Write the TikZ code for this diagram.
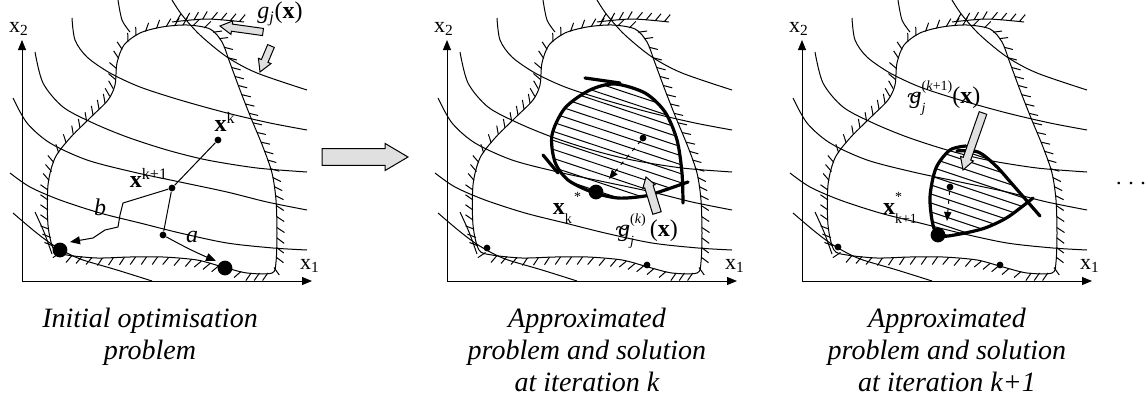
\documentclass[tikz,border=0pt]{standalone}
\usepackage{fontspec}
\setmainfont{Liberation Serif}
\usetikzlibrary{arrows.meta,calc}

\definecolor{arrowgray}{gray}{0.88}

\tikzstyle{isoline} = [line width=0.5pt]
\tikzstyle{approxline} = [line width=1.6pt, line cap=round]
\tikzstyle{dot} = [circle, fill, inner sep=0pt, minimum size=3.4pt]
\tikzstyle{bigdot} = [circle, fill, inner sep=0pt, minimum size=7.4pt]
\tikzstyle{axis} = [line width=0.5pt, -{Triangle[length=5pt,width=4pt]}]
\tikzstyle{arrowline} = [line width=0.5pt, -{Triangle[length=5pt,width=4pt]}]
\tikzstyle{move} = [line width=0.5pt, dash pattern=on 2pt off 2.5pt, -{Triangle[length=4.5pt,width=3.6pt]}]
\tikzstyle{txt} = [inner sep=0pt, font=\fontsize{11}{13}\selectfont]
\tikzstyle{ptxt} = [inner sep=0pt, font=\fontsize{12}{14}\selectfont]
\tikzstyle{caption} = [inner sep=0pt, anchor=north, align=center, font=\fontsize{14}{16}\selectfont\itshape]

% scripts and the tilde of the approximated constraint
\newcommand{\upscript}[1]{\raisebox{0.55em}{\scriptsize #1}}
\newcommand{\downscript}[1]{\raisebox{-0.38em}{\scriptsize #1}}
\newcommand{\gtilde}{\textit{g}\llap{\~{}\kern0.07em}}

% gray block arrow: from, to, half shaft, half head, head length
\newcommand{\blockarrow}[5]{%
  \coordinate (ba) at ($(#2)!#5!(#1)$);
  \filldraw[line width=0.5pt, fill=arrowgray] ($(#1)!#3!90:(#2)$) -- ($(ba)!#3!90:(#2)$)
    -- ($(ba)!#4!90:(#2)$) -- (#2) -- ($(ba)!#4!-90:(#2)$) -- ($(ba)!#3!-90:(#2)$)
    -- ($(#1)!#3!-90:(#2)$) -- cycle;}

% hatch ticks on the outer (left) side of a chain of chords
\newcommand{\hatch}[1]{%
  \foreach \xa/\ya/\xb/\yb in {#1} {
    \pgfmathtruncatemacro{\hn}{max(1,round(veclen(\xb-\xa,\yb-\ya)/10))}
    \foreach \i in {1,...,\hn} {
      \pgfmathsetmacro{\hf}{(\i-0.5)/\hn}
      \coordinate (h) at ($(\xa,\ya)!\hf!(\xb,\yb)$);
      \draw[isoline] (h) -- ($(h)!4.6pt!55:(\xb,\yb)$);
    }
  }}

% objective contours, feasible region and axes of one panel
\newcommand{\feasible}[1]{%
  \draw[isoline] plot[smooth] coordinates {(96,0) (100,20) (108,32)};
  \draw[isoline] plot[smooth] coordinates {(150,0) (160,15) (178,35) (205,57) (235,73) (285,90)};
  \draw[isoline] plot[smooth] coordinates {(50,18) (53,40) (65,57) (88,73) (118,87) (158,100) (205,113) (248,123) (285,130)};
  \draw[isoline] plot[smooth] coordinates {(13,52) (21,83) (41,107) (71,123) (105,137) (145,150) (185,160) (235,168) (285,172)};
  \draw[isoline] plot[smooth] coordinates {(-9,98) (5,123) (28,143) (65,160) (111,172) (158,182) (205,192) (245,202) (285,210)};
  \draw[isoline] plot[smooth] coordinates {(-12,173) (8,187) (38,200) (78,213) (118,223) (158,233) (205,243) (251,248) (285,250)};
  \draw[isoline] plot[smooth] coordinates {(-9,213) (11,230) (28,243) (45,253) (61,260) (95,270) (130,281)};
  \draw[isoline] plot[smooth] coordinates {(13,212) (22,232) (30,254)};
  % feasible region
  \draw[isoline] plot[smooth cycle] coordinates {(32,250) (26,225) (26,185) (33,158) (48,138) (68,118) (86,100) (93,85) (95,63) (102,45) (118,33) (140,27) (165,25) (188,29) (200,42) (208,63) (218,90) (229,118) (241,147) (250,173) (254,200) (255,233) (254,262) (250,273) (225,273) (201,267) (175,260) (141,257) (108,257) (75,258) (45,255)};
  \hatch{32/250/26/225, 26/225/26/185, 26/185/33/158, 33/158/48/138, 48/138/68/118, 68/118/86/100, 86/100/93/85, 93/85/95/63, 95/63/102/45, 102/45/118/33, 118/33/140/27, 140/27/165/25, 165/25/188/29, 188/29/200/42, 200/42/208/63, 208/63/218/90, 218/90/229/118, 229/118/241/147, 241/147/250/173, 250/173/254/200, 254/200/255/233, 255/233/254/262, 254/262/250/273, 250/273/225/273, 225/273/201/267, 201/267/175/260, 175/260/141/257, 141/257/108/257, 108/257/75/258, 75/258/45/255, 45/255/32/250}
  \draw[isoline] plot[smooth] coordinates {(150,22) (185,19) (222,22)};
  \hatch{150/22/185/19, 185/19/222/22}
  % axes
  \coordinate (#1o) at (0,281);
  \coordinate (#1ytip) at (0,40);
  \coordinate (#1xtip) at (290,281);
  \draw[axis] (#1o) -- (#1ytip);
  \draw[axis] (#1o) -- (#1xtip);
  \node[txt] (#1x2) at (-3,29) {x\textsubscript{2}};
  \node[txt] (#1x1) at (288,266) {x\textsubscript{1}};
}

\begin{document}
\begin{tikzpicture}[x=0.5pt, y=-0.5pt]
  \useasboundingbox (0,0) rectangle (1148,402);

  % Initial problem
  \begin{scope}[transform canvas={xshift=11pt}]
    \feasible{a}
    \node[dot] (axk) at (196,140) {};
    \node[dot] (axk1) at (150,188) {};
    \node[dot] (axa) at (141,235) {};
    \node[bigdot] (aleft) at (38,250) {};
    \node[bigdot] (aright) at (203,268) {};
    \coordinate (abend) at (101,203);
    \coordinate (aend) at (48,242);
    \coordinate (aaend) at (194,261);
    \draw[isoline] (axk) -- (axk1);
    \draw[isoline] (axk1) -- (axa);
    \draw[arrowline] (axk1) -- (abend) -- (98,215) -- (96,227) -- (83,230) -- (71,238) -- (aend);
    \draw[arrowline] (axa) .. controls (150,240) and (168,250) .. (aaend);
    \node[ptxt] (axklab) at (203,122) {\textbf{x}\textsuperscript{k}};
    \node[ptxt] (axk1lab) at (127,178) {\textbf{x}\textsuperscript{k+1}};
    \node[ptxt] (ablab) at (78,207) {\textit{b}};
    \node[ptxt] (aalab) at (170,237) {\textit{a}};
    \node[ptxt] (aglab) at (258,14) {\textit{g}\textsubscript{\textit{j}}(\textbf{x})};
    \coordinate (agf1) at (241,32);
    \coordinate (agt1) at (198,26);
    \coordinate (agf2) at (249,46);
    \coordinate (agt2) at (238,72);
    \blockarrow{agf1}{agt1}{1.8pt}{3.4pt}{6pt}
    \blockarrow{agf2}{agt2}{1.8pt}{3.4pt}{6pt}
  \end{scope}

  % step to the next problem
  \coordinate (stepfrom) at (322,157);
  \coordinate (stepto) at (408,157);
  \blockarrow{stepfrom}{stepto}{4.2pt}{6.8pt}{11.5pt}

  % Approximation at iteration k
  \begin{scope}[transform canvas={xshift=223.5pt}]
    \feasible{b}
    \begin{scope}
      \clip plot[smooth] coordinates {(168,84) (143,90) (118,108) (105,135) (108,162) (121,180) (145,192) (171,198) (198,196) (218,190) (236,185)}
        -- plot[smooth] coordinates {(235,173) (230,140) (218,112) (198,93) (168,84)} -- cycle;
      \foreach \h in {27,36,...,207}
        \draw[isoline] (90,\h) -- ++(160,53);
    \end{scope}
    \draw[approxline] plot[smooth] coordinates {(236,203) (235,173) (230,140) (218,112) (198,93) (168,84) (143,90) (118,108) (105,135) (108,162) (121,180) (145,192) (171,198) (198,196) (218,190) (241,182)};
    \draw[approxline] (138,78) -- (173,83);
    \draw[approxline] (96,155) -- (111,173);
    \node[dot] (bleft) at (40,248) {};
    \node[dot] (bright) at (200,265) {};
    \node[dot] (bmid) at (196,138) {};
    \node[bigdot] (bsol) at (149,192) {};
    \coordinate (bstep) at (162,179);
    \draw[move] (bmid) -- (bstep);
    \node[ptxt] (bsollab) at (120,208) {\textbf{x}\downscript{k}\upscript{\,*}};
    \node[ptxt] (bglab) at (201,231) {\gtilde\rlap{\downscript{\textit{j}}}\upscript{(\textit{k})}\,(\textbf{x})};
    \coordinate (bgf) at (210,213);
    \coordinate (bgt) at (199,177);
    \blockarrow{bgf}{bgt}{2.2pt}{3.2pt}{5pt}
  \end{scope}

  % Approximation at iteration k+1
  \begin{scope}[transform canvas={xshift=401pt}]
    \feasible{c}
    \begin{scope}
      \clip plot[smooth] coordinates {(158,149) (176,152) (194,166) (211,185) (224,204)}
        -- plot[smooth] coordinates {(224,204) (206,217) (183,228) (158,234) (138,236) (131,225) (128,197) (134,168) (148,151) (158,149)} -- cycle;
      \foreach \h in {110,119,...,245}
        \draw[isoline] (120,\h) -- ++(120,40);
    \end{scope}
    \draw[approxline] plot[smooth] coordinates {(164,146) (148,150) (134,168) (128,197) (131,225) (138,236) (158,234) (183,228) (206,217) (231,198)};
    \draw[approxline] plot[smooth] coordinates {(155,151) (176,152) (194,166) (211,185) (238,216)};
    \node[dot] (cleft) at (36,247) {};
    \node[dot] (cright) at (198,265) {};
    \node[dot] (cmid) at (148,187) {};
    \node[bigdot] (csol) at (136,235) {};
    \coordinate (cstep) at (145,221);
    \draw[move] (cmid) -- (cstep);
    \node[ptxt] (csollab) at (98,208) {\textbf{x}\rlap{\upscript{*}}\downscript{k+1}};
    \node[ptxt] (cglab) at (143,98) {\gtilde\rlap{\downscript{\textit{j}}}\upscript{(\textit{k}+1)}(\textbf{x})};
    \coordinate (cgf) at (181,113);
    \coordinate (cgt) at (161,170);
    \blockarrow{cgf}{cgt}{2pt}{3.4pt}{6pt}
  \end{scope}

  \node[txt, anchor=base] (more) at (1131,184) {.\hspace{3.3pt}.\hspace{3.3pt}.};

  % captions
  \node[caption] (cap1) at (150,308) {Initial optimisation\\problem};
  \node[caption] (cap2) at (587,308) {Approximated\\problem and solution\\at iteration k};
  \node[caption] (cap3) at (947,308) {Approximated\\problem and solution\\at iteration k+1};
\end{tikzpicture}
\end{document}
